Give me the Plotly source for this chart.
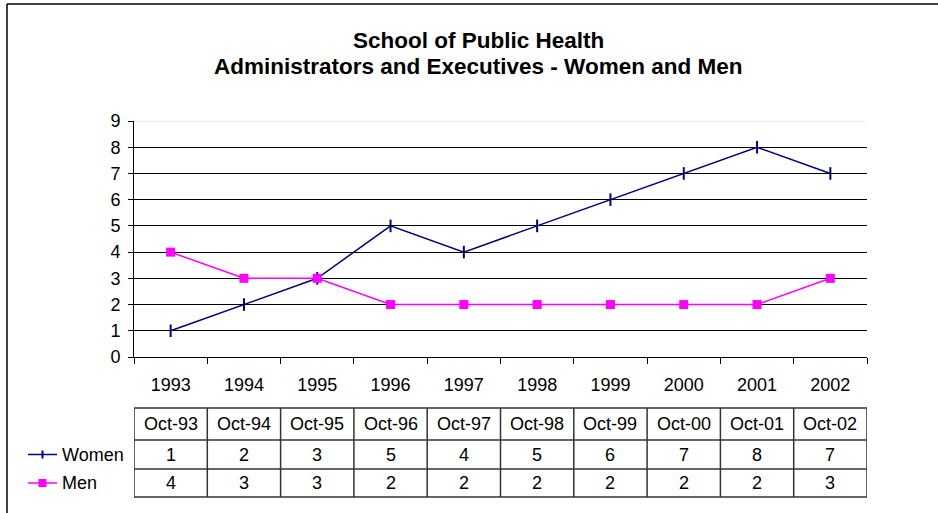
import plotly.graph_objects as go

years = ["1993", "1994", "1995", "1996", "1997", "1998", "1999", "2000", "2001", "2002"]
dates = ["Oct-93", "Oct-94", "Oct-95", "Oct-96", "Oct-97", "Oct-98", "Oct-99", "Oct-00", "Oct-01", "Oct-02"]
women = [1, 2, 3, 5, 4, 5, 6, 7, 8, 7]
men = [4, 3, 3, 2, 2, 2, 2, 2, 2, 3]
title_lines = ["School of Public Health", "Administrators and Executives - Women and Men"]

W, H = 938, 513
L, R, T, B = 134, 71, 121, 156
PW, PH = W - L - R, H - T - B

def px_to_paper_y(py):
    return (H - B - py) / PH

def px_to_paper_x(px):
    return (px - L) / PW

FONT = "Liberation Sans, Arial, sans-serif"
NAVY = "#000080"
MAG = "#FF00FF"

fig = go.Figure()
fig.add_trace(go.Scatter(x=years, y=women, name="Women", mode="lines+markers",
                         line=dict(color=NAVY, width=1.5),
                         marker=dict(symbol="line-ns", size=9, line=dict(color=NAVY, width=2))))
fig.add_trace(go.Scatter(x=years, y=men, name="Men", mode="lines+markers",
                         line=dict(color=MAG, width=1.5),
                         marker=dict(symbol="square", size=9, color=MAG)))

shapes = []
ann = []
# outer border (left and top visible)
shapes.append(dict(type="line", xref="paper", yref="paper",
                   x0=px_to_paper_x(7), x1=px_to_paper_x(7),
                   y0=px_to_paper_y(513), y1=px_to_paper_y(4),
                   line=dict(color="black", width=1.5), layer="below"))
shapes.append(dict(type="line", xref="paper", yref="paper",
                   x0=px_to_paper_x(7), x1=px_to_paper_x(938),
                   y0=px_to_paper_y(4), y1=px_to_paper_y(4),
                   line=dict(color="black", width=1.5), layer="below"))
# top plot border at 9 in light gray
shapes.append(dict(type="line", xref="paper", yref="y", x0=0, x1=1, y0=9, y1=9,
                   line=dict(color="#d9d9d9", width=1)))

n = len(years)
row_y = [408, 440, 469, 497]
left_px = 23
xl = -0.5 - (L - left_px) * n / PW
shapes.append(dict(type="line", xref="x", yref="paper", x0=-0.5, x1=n - 0.5,
                   y0=px_to_paper_y(row_y[0]), y1=px_to_paper_y(row_y[0]),
                   line=dict(color="#333", width=1.5)))
for ry in row_y[1:]:
    shapes.append(dict(type="line", xref="x", yref="paper", x0=xl, x1=n - 0.5,
                       y0=px_to_paper_y(ry), y1=px_to_paper_y(ry),
                       line=dict(color="#333", width=1.5)))
shapes.append(dict(type="line", xref="x", yref="paper", x0=xl, x1=xl,
                   y0=px_to_paper_y(row_y[1]), y1=px_to_paper_y(row_y[3]),
                   line=dict(color="#333", width=1.5)))
for i in range(n + 1):
    shapes.append(dict(type="line", xref="x", yref="paper", x0=i - 0.5, x1=i - 0.5,
                       y0=px_to_paper_y(row_y[0]), y1=px_to_paper_y(row_y[3]),
                       line=dict(color="#333", width=1.5)))

rows = [dates, women, men]
for r, vals in enumerate(rows):
    cy = px_to_paper_y((row_y[r] + row_y[r + 1]) / 2)
    for i, v in enumerate(vals):
        ann.append(dict(x=i, y=cy, xref="x", yref="paper", text=str(v), showarrow=False,
                        font=dict(size=18, color="black", family=FONT),
                        xanchor="center", yanchor="middle"))

for r, (name, col) in enumerate([("Women", NAVY), ("Men", MAG)], start=1):
    cy = px_to_paper_y((row_y[r] + row_y[r + 1]) / 2)
    x0 = px_to_paper_x(28)
    x1 = px_to_paper_x(57)
    xm = px_to_paper_x(42.5)
    shapes.append(dict(type="line", xref="paper", yref="paper", x0=x0, x1=x1, y0=cy, y1=cy,
                       line=dict(color=col, width=1.5)))
    if name == "Women":
        shapes.append(dict(type="line", xref="paper", yref="paper", x0=xm, x1=xm,
                           y0=cy - 4 / PH, y1=cy + 4 / PH, line=dict(color=col, width=2)))
    else:
        shapes.append(dict(type="rect", xref="paper", yref="paper",
                           x0=xm - 4 / PW, x1=xm + 4 / PW, y0=cy - 4 / PH, y1=cy + 4 / PH,
                           fillcolor=col, line=dict(width=0)))
    ann.append(dict(x=px_to_paper_x(60), y=cy, xref="paper", yref="paper", text=name,
                    showarrow=False, xanchor="left", yanchor="middle",
                    font=dict(size=18, color="black", family=FONT)))

# title lines
for txt, py in zip(title_lines, [40, 67]):
    ann.append(dict(x=px_to_paper_x(478), y=px_to_paper_y(py), xref="paper", yref="paper",
                    text="<b>" + txt + "</b>", showarrow=False, xanchor="center", yanchor="middle",
                    font=dict(size=22.5, color="black", family=FONT)))

fig.update_layout(
    width=W, height=H,
    margin=dict(l=L, r=R, t=T, b=B, autoexpand=False),
    paper_bgcolor="white", plot_bgcolor="white",
    showlegend=False,
    font=dict(family=FONT, size=18, color="black"),
    xaxis=dict(type="category", tickson="boundaries", ticks="outside", ticklen=6,
               tickcolor="black", showline=True, linecolor="black", linewidth=1,
               showgrid=False, range=[-0.5, n - 0.5], ticklabelstandoff=11,
               tickfont=dict(size=18)),
    yaxis=dict(range=[0, 9], tickvals=list(range(10)), ticks="outside", ticklen=5,
               tickcolor="black", showline=True, linecolor="black", linewidth=1,
               showgrid=True, gridcolor="black", gridwidth=1, zeroline=False,
               ticklabelstandoff=4, tickfont=dict(size=18)),
    shapes=shapes, annotations=ann,
)

fig.write_html("out.html", config={"displayModeBar": False},
               post_script="document.body.style.margin='0';document.body.style.padding='0';")
